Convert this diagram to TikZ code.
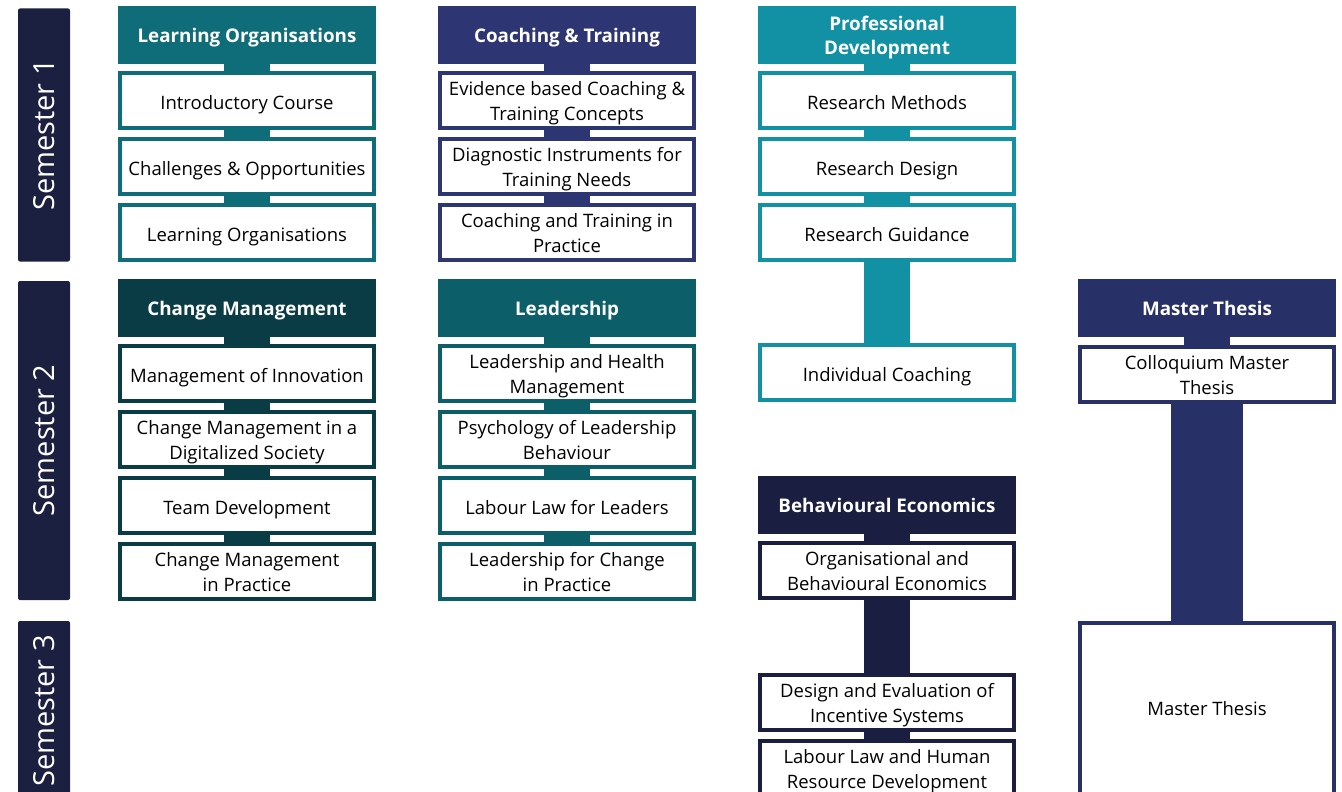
\documentclass[tikz,border=0pt]{standalone}
\usepackage{fontspec}
\setmainfont{Open Sans}
\definecolor{semc}{HTML}{1B1F40}
\definecolor{loc}{HTML}{0F6D7A}
\definecolor{ctc}{HTML}{2D3572}
\definecolor{pdc}{HTML}{1291A4}
\definecolor{cmc}{HTML}{0A3C45}
\definecolor{ldc}{HTML}{0C5F69}
\definecolor{bec}{HTML}{1A1E40}
\definecolor{mtc}{HTML}{283068}
\newcommand\cb[2][4pt]{\raisebox{0pt}[\dimexpr\height+#1\relax][\dimexpr\depth-#1\relax]{\begin{tabular}{@{}c@{}}#2\end{tabular}}}
\newcommand\hb[1]{\cb[3pt]{#1}}
\newcommand\tb[1]{\cb[2.5pt]{#1}}
\begin{document}
\begin{tikzpicture}[x=1pt,y=-1pt,
  head/.style={fill=#1, text=white, font=\bfseries\fontsize{18.8}{24}\selectfont, minimum width=258pt, minimum height=58pt, inner sep=0pt},
  course/.style={draw=#1, line width=4pt, fill=white, font=\fontsize{18.5}{25}\selectfont, minimum width=254pt, minimum height=55pt, inner sep=0pt},
  link/.style={draw=#1, line width=46pt},
  sem/.style={fill=semc, rounded corners=2pt, rotate=90, text=white, font=\fontsize{29}{34}\selectfont, minimum height=52pt, inner sep=0pt}]
\useasboundingbox (0,0) rectangle (1342,792);
\clip (0,0) rectangle (1342,792);
% semesters
\node[sem, minimum width=253pt] (s1) at (44,135) {Semester 1};
\node[sem, minimum width=319pt] (s2) at (44,440.5) {Semester 2};
\node[sem, minimum width=180pt] (s3) at (44,711) {Semester 3};
% column 1
\node[head=loc] (h1) at (247,35) {\hb{Learning Organisations}};
\node[course=loc] (a1) at (247,100.5) {\cb{Introductory Course}};
\node[course=loc] (a2) at (247,166.5) {\cb{Challenges \& Opportunities}};
\node[course=loc] (a3) at (247,232.5) {\cb{Learning Organisations}};
\draw[link=loc] (h1.south) -- (a1.north);
\draw[link=loc] (a1.south) -- (a2.north);
\draw[link=loc] (a2.south) -- (a3.north);
\node[head=cmc] (h4) at (247,308) {\hb{Change Management}};
\node[course=cmc] (d1) at (247,373) {\cb{Management of Innovation}};
\node[course=cmc] (d2) at (247,439) {\tb{Change Management in a\\Digitalized Society}};
\node[course=cmc] (d3) at (247,505) {\cb{Team Development}};
\node[course=cmc] (d4) at (247,571) {\tb{Change Management\\in Practice}};
\draw[link=cmc] (h4.south) -- (d1.north);
\draw[link=cmc] (d1.south) -- (d2.north);
\draw[link=cmc] (d2.south) -- (d3.north);
\draw[link=cmc] (d3.south) -- (d4.north);
% column 2
\node[head=ctc] (h2) at (567,35) {\hb{Coaching \& Training}};
\node[course=ctc] (b1) at (567,100.5) {\tb{Evidence based Coaching \&\\Training Concepts}};
\node[course=ctc] (b2) at (567,166.5) {\tb{Diagnostic Instruments for\\Training Needs}};
\node[course=ctc] (b3) at (567,232.5) {\tb{Coaching and Training in\\Practice}};
\draw[link=ctc] (h2.south) -- (b1.north);
\draw[link=ctc] (b1.south) -- (b2.north);
\draw[link=ctc] (b2.south) -- (b3.north);
\node[head=ldc] (h5) at (567,308) {\hb{Leadership}};
\node[course=ldc] (e1) at (567,373) {\tb{Leadership and Health\\Management}};
\node[course=ldc] (e2) at (567,439) {\tb{Psychology of Leadership\\Behaviour}};
\node[course=ldc] (e3) at (567,505) {\cb{Labour Law for Leaders}};
\node[course=ldc] (e4) at (567,571) {\tb{Leadership for Change\\in Practice}};
\draw[link=ldc] (h5.south) -- (e1.north);
\draw[link=ldc] (e1.south) -- (e2.north);
\draw[link=ldc] (e2.south) -- (e3.north);
\draw[link=ldc] (e3.south) -- (e4.north);
% column 3
\node[head=pdc] (h3) at (887,35) {\hb{Professional\\Development}};
\node[course=pdc] (c1) at (887,100.5) {\cb{Research Methods}};
\node[course=pdc] (c2) at (887,166.5) {\cb{Research Design}};
\node[course=pdc] (c3) at (887,232.5) {\cb{Research Guidance}};
\node[course=pdc] (c4) at (887,372.5) {\cb{Individual Coaching}};
\draw[link=pdc] (h3.south) -- (c1.north);
\draw[link=pdc] (c1.south) -- (c2.north);
\draw[link=pdc] (c2.south) -- (c3.north);
\draw[link=pdc] (c3.south) -- (c4.north);
\node[head=bec] (h6) at (887,505) {\hb{Behavioural Economics}};
\node[course=bec] (f1) at (887,570.5) {\tb{Organisational and\\Behavioural Economics}};
\node[course=bec] (f2) at (887,702) {\tb{Design and Evaluation of\\Incentive Systems}};
\node[course=bec] (f3) at (887,768) {\tb{Labour Law and Human\\Resource Development}};
\draw[link=bec] (h6.south) -- (f1.north);
\draw[link=bec] (f1.south) -- (f2.north);
\draw[link=bec] (f2.south) -- (f3.north);
% column 4
\node[head=mtc] (h7) at (1207,308) {\hb{Master Thesis}};
\node[course=mtc] (g1) at (1207,374) {\tb{Colloquium Master\\Thesis}};
\node[course=mtc, minimum height=172pt] (g2) at (1207,709) {\cb[1.5pt]{Master Thesis}};
\draw[link=mtc] (h7.south) -- (g1.north);
\draw[link=mtc, line width=72pt] (g1.south) -- (g2.north);
\end{tikzpicture}
\end{document}
